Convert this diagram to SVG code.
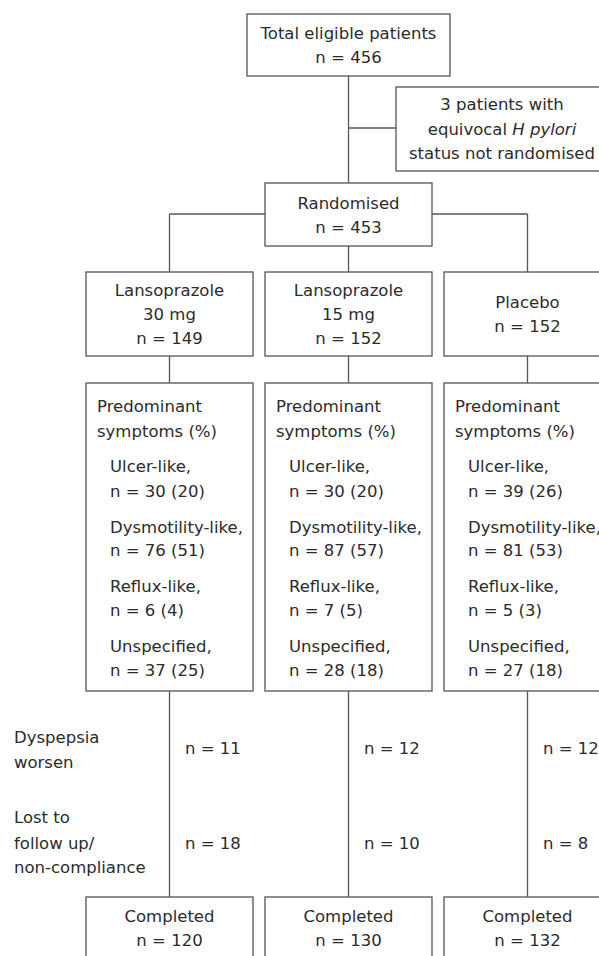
<svg xmlns="http://www.w3.org/2000/svg" width="599" height="956" viewBox="0 0 599 956">
<style>
  rect.box { fill: #ffffff; stroke: #555555; stroke-width: 1.3; }
  .conn line { stroke: #555555; stroke-width: 1.3; }
  text { font-family: "DejaVu Sans", "Liberation Sans", sans-serif; font-size: 16.5px; fill: #2b2b2b; }
  .c { text-anchor: middle; }
</style>
<rect width="599" height="956" fill="#ffffff"/>
<g class="conn" id="connectors">
  <line x1="348.5" y1="76" x2="348.5" y2="183"/>
  <line x1="348.5" y1="128" x2="396" y2="128"/>
  <line x1="169.5" y1="214" x2="265" y2="214"/>
  <line x1="432" y1="214" x2="527.5" y2="214"/>
  <line x1="169.5" y1="214" x2="169.5" y2="272"/>
  <line x1="527.5" y1="214" x2="527.5" y2="272"/>
  <line x1="348.5" y1="246" x2="348.5" y2="272"/>
  <line x1="169.5" y1="356" x2="169.5" y2="383"/>
  <line x1="348.5" y1="356" x2="348.5" y2="383"/>
  <line x1="527.5" y1="356" x2="527.5" y2="383"/>
  <line x1="169.5" y1="691" x2="169.5" y2="897"/>
  <line x1="348.5" y1="691" x2="348.5" y2="897"/>
  <line x1="527.5" y1="691" x2="527.5" y2="897"/>
</g>
<g id="total">
  <rect class="box" x="247" y="14" width="203" height="62"/>
  <text class="c" x="348.5" y="39">Total eligible patients</text>
  <text class="c" x="348.5" y="63">n = 456</text>
</g>
<g id="excluded">
  <rect class="box" x="396" y="87" width="215" height="84"/>
  <text class="c" x="502" y="110">3 patients with</text>
  <text class="c" x="502" y="135">equivocal <tspan font-style="italic">H pylori</tspan></text>
  <text class="c" x="502" y="159">status not randomised</text>
</g>
<g id="randomised">
  <rect class="box" x="265" y="183" width="167" height="63"/>
  <text class="c" x="348.5" y="209">Randomised</text>
  <text class="c" x="348.5" y="233">n = 453</text>
</g>
<g id="lanso30">
  <rect class="box" x="86" y="272" width="167" height="84"/>
  <text class="c" x="169.5" y="296">Lansoprazole</text>
  <text class="c" x="169.5" y="320">30 mg</text>
  <text class="c" x="169.5" y="344">n = 149</text>
</g>
<g id="lanso15">
  <rect class="box" x="265" y="272" width="167" height="84"/>
  <text class="c" x="348.5" y="296">Lansoprazole</text>
  <text class="c" x="348.5" y="320">15 mg</text>
  <text class="c" x="348.5" y="344">n = 152</text>
</g>
<g id="placebo">
  <rect class="box" x="444" y="272" width="167" height="84"/>
  <text class="c" x="527.5" y="308">Placebo</text>
  <text class="c" x="527.5" y="332">n = 152</text>
</g>
<g id="symptoms30">
  <rect class="box" x="86" y="383" width="167" height="308"/>
  <text x="97" y="412">Predominant</text>
  <text x="97" y="437">symptoms (%)</text>
  <text x="110" y="472">Ulcer-like,</text>
  <text x="110" y="497">n = 30 (20)</text>
  <text x="110" y="533">Dysmotility-like,</text>
  <text x="110" y="556">n = 76 (51)</text>
  <text x="110" y="592">Reflux-like,</text>
  <text x="110" y="616">n = 6 (4)</text>
  <text x="110" y="652">Unspecified,</text>
  <text x="110" y="676">n = 37 (25)</text>
</g>
<g id="symptoms15">
  <rect class="box" x="265" y="383" width="167" height="308"/>
  <text x="276" y="412">Predominant</text>
  <text x="276" y="437">symptoms (%)</text>
  <text x="289" y="472">Ulcer-like,</text>
  <text x="289" y="497">n = 30 (20)</text>
  <text x="289" y="533">Dysmotility-like,</text>
  <text x="289" y="556">n = 87 (57)</text>
  <text x="289" y="592">Reflux-like,</text>
  <text x="289" y="616">n = 7 (5)</text>
  <text x="289" y="652">Unspecified,</text>
  <text x="289" y="676">n = 28 (18)</text>
</g>
<g id="symptomsPlacebo">
  <rect class="box" x="444" y="383" width="167" height="308"/>
  <text x="455" y="412">Predominant</text>
  <text x="455" y="437">symptoms (%)</text>
  <text x="468" y="472">Ulcer-like,</text>
  <text x="468" y="497">n = 39 (26)</text>
  <text x="468" y="533">Dysmotility-like,</text>
  <text x="468" y="556">n = 81 (53)</text>
  <text x="468" y="592">Reflux-like,</text>
  <text x="468" y="616">n = 5 (3)</text>
  <text x="468" y="652">Unspecified,</text>
  <text x="468" y="676">n = 27 (18)</text>
</g>
<g id="labels">
  <text x="14" y="743">Dyspepsia</text>
  <text x="14" y="768">worsen</text>
  <text x="14" y="823">Lost to</text>
  <text x="14" y="849">follow up/</text>
  <text x="14" y="873">non-compliance</text>
</g>
<g id="withdrawals">
  <text x="185" y="754">n = 11</text>
  <text x="185" y="849">n = 18</text>
  <text x="364" y="754">n = 12</text>
  <text x="364" y="849">n = 10</text>
  <text x="543" y="754">n = 12</text>
  <text x="543" y="849">n = 8</text>
</g>
<g id="completed30">
  <rect class="box" x="86" y="897" width="167" height="80"/>
  <text class="c" x="169.5" y="922">Completed</text>
  <text class="c" x="169.5" y="946">n = 120</text>
</g>
<g id="completed15">
  <rect class="box" x="265" y="897" width="167" height="80"/>
  <text class="c" x="348.5" y="922">Completed</text>
  <text class="c" x="348.5" y="946">n = 130</text>
</g>
<g id="completedPlacebo">
  <rect class="box" x="444" y="897" width="167" height="80"/>
  <text class="c" x="527.5" y="922">Completed</text>
  <text class="c" x="527.5" y="946">n = 132</text>
</g>
</svg>
